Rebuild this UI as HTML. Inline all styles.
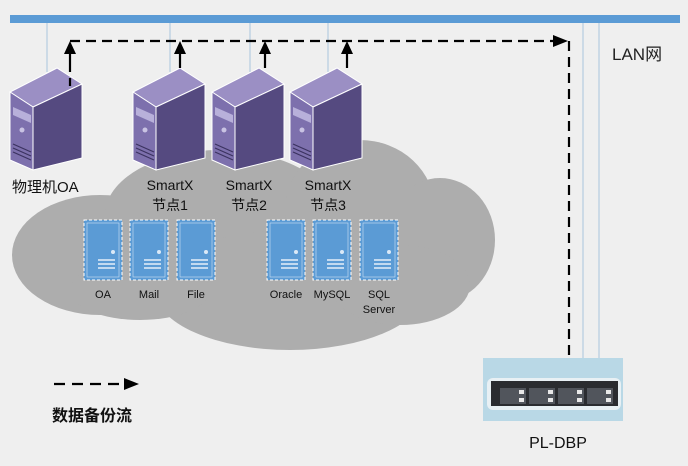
<!DOCTYPE html>
<html><head><meta charset="utf-8"><style>
html,body{margin:0;padding:0;background:#efefef;}
svg{display:block}
text{font-family:"Liberation Sans","Noto Sans CJK SC",sans-serif;}
</style></head><body>
<svg width="688" height="466" viewBox="0 0 688 466" xmlns="http://www.w3.org/2000/svg">
<defs>
<g id="tower">
  <polygon points="47,0 0,24 23,39 72,16" fill="#9b8fc4" stroke="#fff" stroke-width="1"/>
  <polygon points="0,24 23,39 23,102 0,92" fill="#7d70ad" stroke="#fff" stroke-width="1"/>
  <polygon points="23,39 72,16 72,90 23,102" fill="#554a80" stroke="#fff" stroke-width="1"/>
  <polygon points="3,39 21,47 21,55 3,47" fill="#b8b0da"/>
  <circle cx="12" cy="62" r="2.5" fill="#c9c3e3"/>
  <path d="M3,76 L21,84 M3,80 L21,88 M3,84 L21,92" stroke="#3b3260" stroke-width="1.2"/>
</g>
<g id="app">
  <rect x="0" y="0" width="38" height="60" fill="#5b9bd5" stroke="#fff" stroke-width="1" stroke-dasharray="3,2"/>
  <rect x="3" y="3" width="32" height="54" fill="#5b9bd5" stroke="#cfe2f5" stroke-width="0.6"/>
  <circle cx="29" cy="32" r="2" fill="#dbe9f7"/>
  <path d="M14,40 H31 M14,44 H31 M14,48 H31" stroke="#e6f0fa" stroke-width="1.5"/>
</g>
</defs>
<!-- cloud -->
<g fill="#adadad">
  <ellipse cx="100" cy="255" rx="88" ry="60"/>
  <ellipse cx="220" cy="215" rx="115" ry="65"/>
  <ellipse cx="360" cy="210" rx="75" ry="70"/>
  <ellipse cx="440" cy="240" rx="55" ry="62"/>
  <ellipse cx="290" cy="290" rx="135" ry="60"/>
  <ellipse cx="140" cy="290" rx="70" ry="30"/>
  <ellipse cx="400" cy="285" rx="70" ry="40"/>
</g>
<!-- LAN bar -->
<rect x="10" y="15" width="670" height="8" fill="#5b9bd5"/>
<g stroke="#a9c4dc" stroke-width="1">
  <line x1="47" y1="23" x2="47" y2="72"/>
  <line x1="170" y1="23" x2="170" y2="72"/>
  <line x1="250" y1="23" x2="250" y2="72"/>
  <line x1="328" y1="23" x2="328" y2="72"/>
  <line x1="583" y1="23" x2="583" y2="358"/>
  <line x1="599" y1="23" x2="599" y2="358"/>
</g>
<text x="612" y="60" font-size="17" fill="#222">LAN网</text>
<!-- towers -->
<use href="#tower" x="10" y="68"/>
<use href="#tower" x="133" y="68"/>
<use href="#tower" x="212" y="68"/>
<use href="#tower" x="290" y="68"/>
<!-- dashed flow -->
<g stroke="#000" stroke-width="2.2" fill="none">
  <path d="M70,41 H560" stroke-dasharray="10,6"/>
  <path d="M569,41 V362" stroke-dasharray="10,6"/>
  <line x1="70" y1="86" x2="70" y2="78"/>
  <line x1="70" y1="72" x2="70" y2="52"/>
  <line x1="180" y1="68" x2="180" y2="52"/>
  <line x1="265" y1="68" x2="265" y2="52"/>
  <line x1="347" y1="68" x2="347" y2="52"/>
</g>
<g fill="#000">
  <polygon points="64,54 76,54 70,41"/>
  <polygon points="174,54 186,54 180,41"/>
  <polygon points="259,54 271,54 265,41"/>
  <polygon points="341,54 353,54 347,41"/>
  <polygon points="553,35 553,47 568,41"/>
  <polygon points="563,359 575,359 569,374"/>
</g>
<!-- labels -->
<text x="12" y="192" font-size="15" fill="#111">物理机OA</text>
<g font-size="14" fill="#111" text-anchor="middle">
  <text x="170" y="190">SmartX</text><text x="170" y="210">节点1</text>
  <text x="249" y="190">SmartX</text><text x="249" y="210">节点2</text>
  <text x="328" y="190">SmartX</text><text x="328" y="210">节点3</text>
</g>
<!-- apps -->
<use href="#app" x="84" y="220"/>
<use href="#app" x="130" y="220"/>
<use href="#app" x="177" y="220"/>
<use href="#app" x="267" y="220"/>
<use href="#app" x="313" y="220"/>
<use href="#app" x="360" y="220"/>
<g font-size="11" fill="#111" text-anchor="middle">
  <text x="103" y="298">OA</text>
  <text x="149" y="298">Mail</text>
  <text x="196" y="298">File</text>
  <text x="286" y="298">Oracle</text>
  <text x="332" y="298">MySQL</text>
  <text x="379" y="298">SQL</text>
  <text x="379" y="313">Server</text>
</g>
<!-- PL-DBP -->
<rect x="483" y="358" width="140" height="63" fill="#b9d8e6"/>
<rect x="487" y="378" width="134" height="32" rx="6" fill="#e8f0f4"/>
<rect x="491" y="381" width="127" height="25" fill="#2a2c30"/>
<g fill="#51555c">
  <rect x="500" y="388" width="26" height="16"/><rect x="529" y="388" width="26" height="16"/>
  <rect x="558" y="388" width="26" height="16"/><rect x="587" y="388" width="26" height="16"/>
</g>
<g fill="#e8e8e8">
  <rect x="519" y="390" width="5" height="4"/><rect x="519" y="398" width="5" height="4"/>
  <rect x="548" y="390" width="5" height="4"/><rect x="548" y="398" width="5" height="4"/>
  <rect x="577" y="390" width="5" height="4"/><rect x="577" y="398" width="5" height="4"/>
  <rect x="606" y="390" width="5" height="4"/><rect x="606" y="398" width="5" height="4"/>
</g>
<text x="558" y="448" font-size="16" fill="#111" text-anchor="middle" font-family="'DejaVu Sans Mono',monospace">PL-DBP</text>
<!-- legend -->
<path d="M54,384 H124" stroke="#000" stroke-width="2.2" stroke-dasharray="11,7"/>
<polygon points="124,378 124,390 139,384" fill="#000"/>
<text x="52" y="421" font-size="16" font-weight="bold" fill="#111" font-family="'Noto Serif CJK SC',serif">数据备份流</text>
</svg>
</body></html>
